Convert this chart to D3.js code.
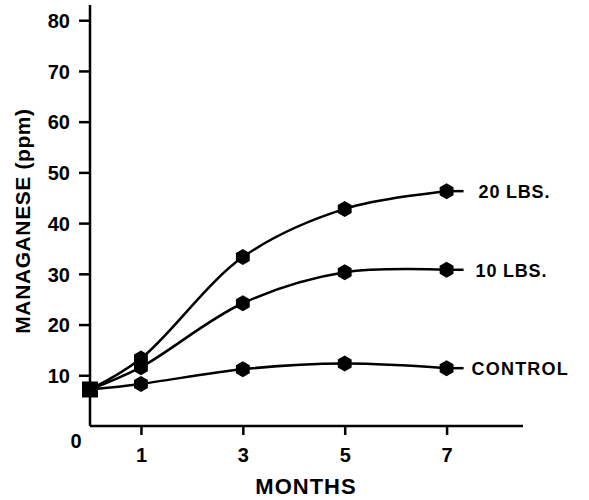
<!DOCTYPE html>
<html>
<head>
<meta charset="utf-8">
<script src="https://cdn.jsdelivr.net/npm/d3@7"></script>
<style>
  body { margin: 0; background: #fff; }
  text { font-family: "Liberation Sans", Arial, sans-serif; font-weight: bold; fill: #000; }
</style>
</head>
<body>
<div id="chart"></div>
<script>
// values
var months = [0, 1, 3, 5, 7];
var lbs20 = [7.2, 13.3, 33.3, 42.8, 46.3];
var lbs10 = [7.2, 11.6, 24.2, 30.3, 30.8];
var control = [7.2, 8.3, 11.2, 12.3, 11.4];
var seriesNames = ["20 LBS.", "10 LBS.", "CONTROL"];
var xTicks = [1, 3, 5, 7];
var yTicks = [10, 20, 30, 40, 50, 60, 70, 80];

var w = 589, h = 500;
var svg = d3.select("#chart").append("svg")
    .attr("width", w)
    .attr("height", h);

var x = d3.scaleLinear().domain([0, 8.5]).range([90, 523]);
var y = d3.scaleLinear().domain([0, 83]).range([426, 5]);

// axes
var yAxis = d3.axisLeft(y).tickValues(yTicks).tickSize(11).tickPadding(9);
var gy = svg.append("g").attr("transform", "translate(" + x(0) + ",0)").call(yAxis);
gy.select(".domain").attr("d", "M0," + y.range()[1] + "V" + y(0));

var xAxis = d3.axisBottom(x).tickValues(xTicks).tickSize(9).tickPadding(8);
var gx = svg.append("g").attr("transform", "translate(0," + y(0) + ")").call(xAxis);
gx.select(".domain").attr("d", "M" + x(0) + ",0H" + x.range()[1]);

svg.selectAll(".domain, .tick line")
    .attr("stroke", "#000")
    .attr("stroke-width", 2.5);
svg.selectAll(".tick text")
    .style("font-size", "20px")
    .style("font-family", "Liberation Sans, Arial, sans-serif")
    .style("font-weight", "bold");
gy.selectAll(".tick text").attr("dy", "0.36em");
gx.selectAll(".tick text").attr("dy", "0.95em");

// zero label sitting under the corner
svg.append("text")
    .attr("x", x(0) - 14)
    .attr("y", y(0) + 22)
    .attr("text-anchor", "middle")
    .style("font-size", "20px")
    .text("0");

// axis titles
svg.append("text")
    .attr("x", 306)
    .attr("y", 494)
    .attr("text-anchor", "middle")
    .style("font-size", "22px")
    .style("letter-spacing", "1px")
    .text("MONTHS");

svg.append("text")
    .attr("transform", "translate(30,221) rotate(-90)")
    .attr("text-anchor", "middle")
    .style("font-size", "21px")
    .style("letter-spacing", "0.6px")
    .text("MANAGANESE (ppm)");

// series
var allSeries = [lbs20, lbs10, control];
var labelDx = [32, 29, 25];
var line = d3.line()
    .x(function(d, i) { return x(months[i]); })
    .y(function(d) { return y(d); })
    .curve(d3.curveCatmullRom);

var hex = d3.range(6).map(function(j) {
    var a = Math.PI / 6 + j * Math.PI / 3;
    return [8 * Math.cos(a), 8 * Math.sin(a)];
});

allSeries.forEach(function(vals, k) {
    svg.append("path")
        .datum(vals)
        .attr("d", line)
        .attr("fill", "none")
        .attr("stroke", "#000")
        .attr("stroke-width", 2.5);

    var last = vals[vals.length - 1];
    var lx = x(months[months.length - 1]);
    // short stub after last point
    svg.append("line")
        .attr("x1", lx).attr("x2", lx + 17)
        .attr("y1", y(last)).attr("y2", y(last))
        .attr("stroke", "#000")
        .attr("stroke-width", 2.5);

    svg.append("text")
        .attr("x", lx + labelDx[k])
        .attr("y", y(last) + 7)
        .style("font-size", "18px")
        .style("letter-spacing", k == 2 ? "1.2px" : "0.8px")
        .text(seriesNames[k]);

    // hexagon markers
    svg.selectAll(null)
        .data(vals.slice(1))
        .enter().append("path")
        .attr("transform", function(d, i) { return "translate(" + x(months[i + 1]) + "," + y(d) + ")"; })
        .attr("d", "M" + hex.join("L") + "Z")
        .attr("fill", "#000");
});

// starting square
svg.append("rect")
    .attr("x", x(months[0]) - 8)
    .attr("y", y(lbs20[0]) - 8)
    .attr("width", 16)
    .attr("height", 16)
    .attr("fill", "#000");
</script>
</body>
</html>
